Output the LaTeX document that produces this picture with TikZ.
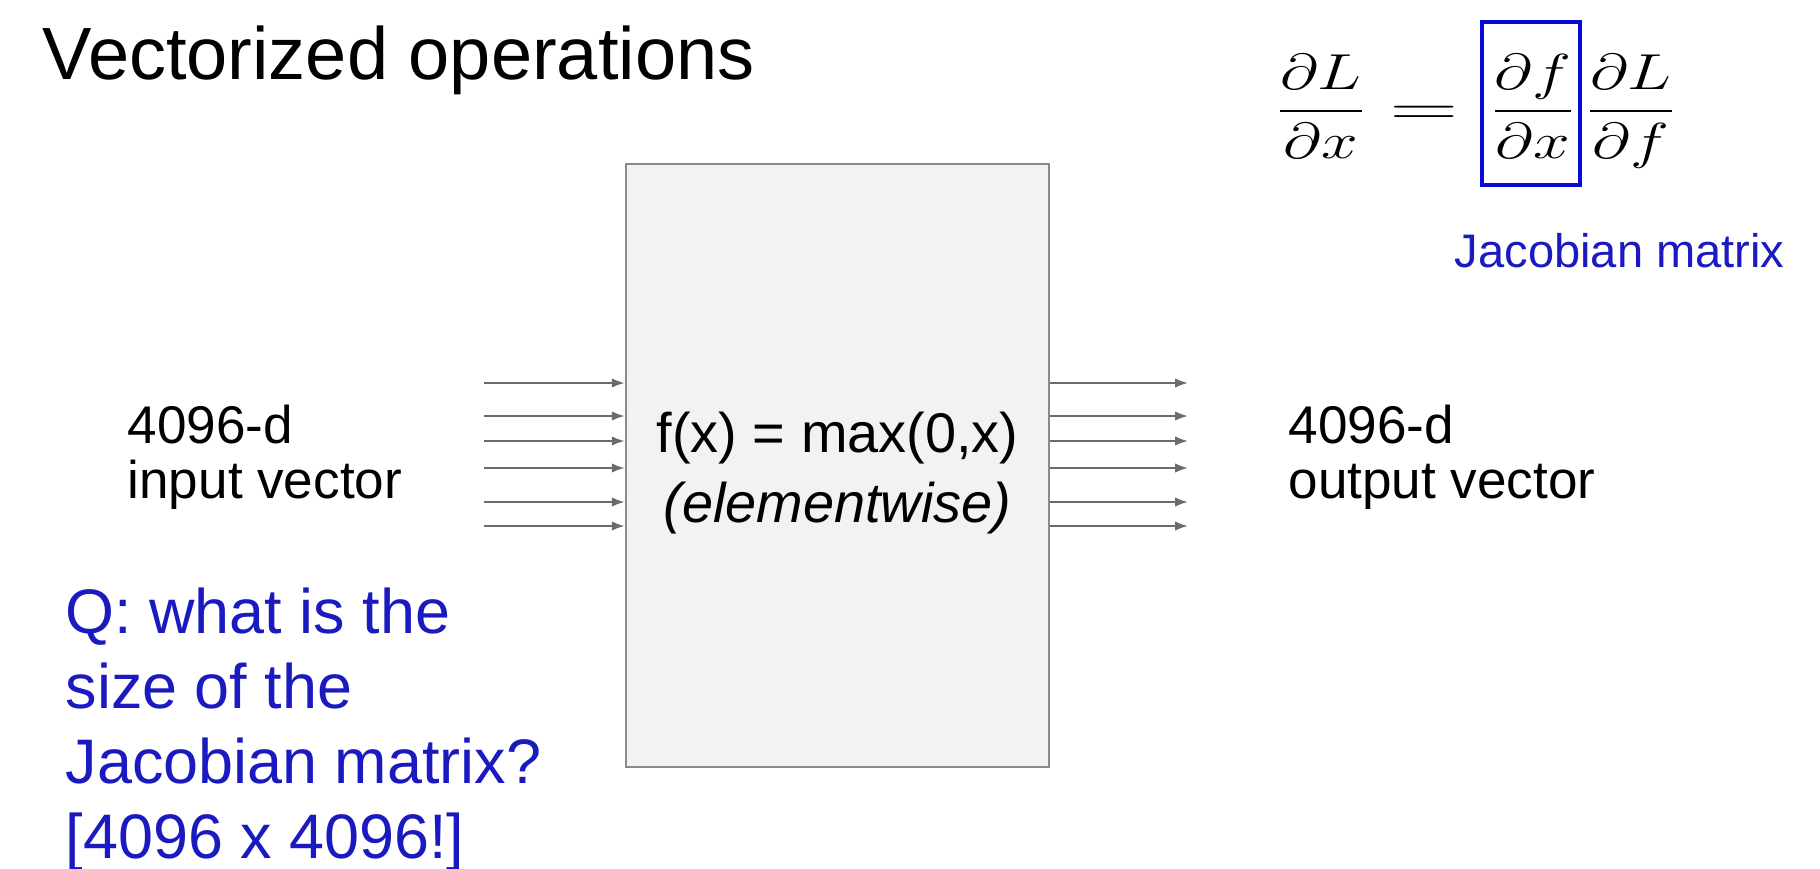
\documentclass[tikz,border=0pt]{standalone}
\usepackage[no-math]{fontspec}
\setmainfont{Liberation Sans}
\usepackage{amsmath}
\usepackage{graphicx}
\usetikzlibrary{arrows.meta,positioning}
\definecolor{qblue}{HTML}{1A1AC0}
\definecolor{jacblue}{HTML}{0A0AD8}
\definecolor{wiregray}{HTML}{6B6B6B}
\definecolor{boxgray}{HTML}{8A8A8A}
\definecolor{boxfill}{HTML}{F2F2F2}
\tikzset{
  slidetitle/.style={anchor=base west,inner sep=0pt,font=\fontsize{21.06}{25}\selectfont},
  veclabel/.style={anchor=base west,inner sep=0pt,align=left,font=\fontsize{15.1}{15.65}\selectfont},
  opbox/.style={draw=boxgray,fill=boxfill,line width=0.7pt,inner sep=0pt,
    minimum width=42.3mm,minimum height=60.3mm},
  optext/.style={anchor=base,inner sep=0pt,align=center,font=\fontsize{15.9}{19.9}\selectfont},
  wire/.style={-{Latex[length=1.3mm,width=0.95mm]},line width=0.6pt,color=wiregray},
  quiz/.style={anchor=base west,inner sep=0pt,align=left,text=qblue,
    font=\fontsize{17.9}{21.34}\selectfont},
  eqn/.style={anchor=base,inner sep=0pt,font=\fontsize{15.5}{18}\selectfont},
  jacbox/.style={draw=jacblue,line width=1.2pt,inner sep=0pt,minimum width=9.8mm,minimum height=16.3mm},
  jaclabel/.style={anchor=base west,inner sep=0pt,text=qblue,font=\fontsize{13.4}{15}\selectfont},
}
\newcommand{\wideeq}[1]{\scalebox{1.3}[1]{$\displaystyle #1$}}

\begin{document}
\begin{tikzpicture}[x=0.1mm,y=-0.1mm]
\useasboundingbox (0,0) rectangle (1820,868);
\node[slidetitle] (title) at (42,79) {Vectorized operations};
% chain rule with the jacobian boxed
\node[eqn] (lhs) at (1321,124) {\wideeq{\frac{\partial L}{\partial x}}};
\node[eqn] (eqsign) at (1424,124) {\scalebox{1.8}[1]{$=$}};
\node[jacbox] (jac) at (1531,103.5) {};
\node[eqn] (dfdx) at (1533,124) {\wideeq{\frac{\partial f}{\partial x}}};
\node[eqn] (rhs) at (1631,124) {\wideeq{\frac{\partial L}{\partial f}}};
\node[jaclabel] (jaclbl) at (1454,267) {Jacobian matrix};
% the elementwise block
\node[opbox] (relu) at (837.5,465.5) {};
\node[optext] (fx) at (837.5,522) {f(x) = max(0,x)\\\textit{(elementwise)}};
\node[veclabel] (invec) at (127,498) {4096-d\\input vector};
\node[veclabel] (outvec) at (1288,498) {4096-d\\output vector};
\foreach \y [count=\i] in {383,416,441,468,502,526} {
  \coordinate (in\i) at (484,\y);
  \coordinate (out\i) at (1188,\y);
  \draw[wire] (in\i) -- (in\i -| relu.west);
  \draw[wire] (out\i -| relu.east) -- (out\i);
}
\node[quiz] (question) at (65,858) {Q: what is the\\size of the\\Jacobian matrix?\\{[}4096 x 4096!{]}};
\end{tikzpicture}
\end{document}
